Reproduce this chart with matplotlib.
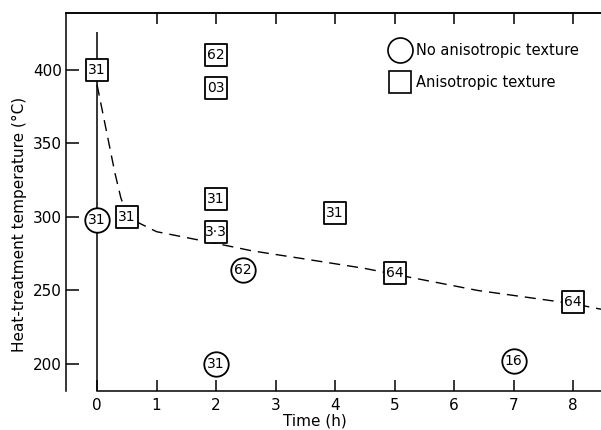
import matplotlib
matplotlib.use("Agg")
import matplotlib.pyplot as plt
from matplotlib.lines import Line2D

# anisotropic texture (squares)
sq_time = [0, 0.5, 2, 2, 2, 2, 4, 5, 8]
sq_temp = [400, 300, 410, 388, 312, 290, 303, 262, 242]
sq_text = ["31", "31", "62", "03", "31", "3·3", "31", "64", "64"]

# no anisotropic texture (circles)
ci_time = [0, 2.45, 2, 7]
ci_temp = [298, 264, 200, 202]
ci_text = ["31", "62", "31", "16"]

# dashed boundary curve
curve_time = [0.0, 0.1, 0.2, 0.3, 0.4, 0.5, 0.7, 1.0, 1.5, 2.0, 2.6, 3.4, 4.5, 5.0, 6.4, 8.0, 8.5]
curve_temp = [390, 370, 350, 330, 313, 302, 296, 290, 286, 282, 277, 272, 265, 261, 250, 241, 237]

FONTSIZE = 11
plt.rcParams['font.family'] = 'DejaVu Sans'
plt.rcParams['font.size'] = FONTSIZE

fig = plt.figure(figsize=(6.01, 4.30), dpi=100)
ax = fig.add_axes([0.11, 0.0907, 0.89, 0.8791])

xmin, xmax = -0.52, 8.47
ymin, ymax = 181.6, 438.8
ax.set_xlim(xmin, xmax)
ax.set_ylim(ymin, ymax)

# time = 0 line
ax.vlines(0, ymin, 426, color='k', lw=1.1, zorder=1)

ax.plot(curve_time, curve_temp, color='k', lw=1.0, dashes=(8, 5), zorder=1)

ax.scatter(sq_time, sq_temp, marker='s', s=250, facecolor='white',
           edgecolor='k', linewidths=1.3, zorder=3)
ax.scatter(ci_time, ci_temp, marker='o', s=310, facecolor='white',
           edgecolor='k', linewidths=1.3, zorder=3)
for x, y, t in zip(sq_time + ci_time, sq_temp + ci_temp, sq_text + ci_text):
    ax.text(x, y, t, ha='center', va='center', fontsize=10, zorder=4)

# frame
ax.spines['right'].set_visible(False)
ax.spines['bottom'].set_bounds(0, xmax)
for s in ax.spines.values():
    s.set_linewidth(1.1)

ax.set_xticks(range(0, 9))
ax.set_yticks([200, 250, 300, 350, 400])
ax.tick_params(axis='x', direction='in', length=8, width=1.1, pad=5)
ax.tick_params(axis='y', direction='in', length=9, width=1.1, pad=3)

top = ax.secondary_xaxis('top')
top.set_xticks(range(1, 9))
top.tick_params(direction='in', length=8, width=1.1, labeltop=False)
top.spines['top'].set_linewidth(1.1)

ax.set_xlabel('Time (h)')
ax.set_ylabel('Heat-treatment temperature (°C)')
ax.xaxis.set_label_coords(0.465, -0.06)
ax.yaxis.set_label_coords(-0.073, 0.44)

handles = [
    Line2D([], [], ls='none', marker='o', ms=18, mfc='white', mec='k', mew=1.2),
    Line2D([], [], ls='none', marker='s', ms=16, mfc='white', mec='k', mew=1.2),
]
ax.legend(handles, ['No anisotropic texture', 'Anisotropic texture'],
          loc='upper left', bbox_to_anchor=(0.591, 0.94), frameon=False,
          borderpad=0, handlelength=1.5, handletextpad=0.3, labelspacing=1.2,
          fontsize=10.5)

fig.savefig('out.png', dpi=100)
